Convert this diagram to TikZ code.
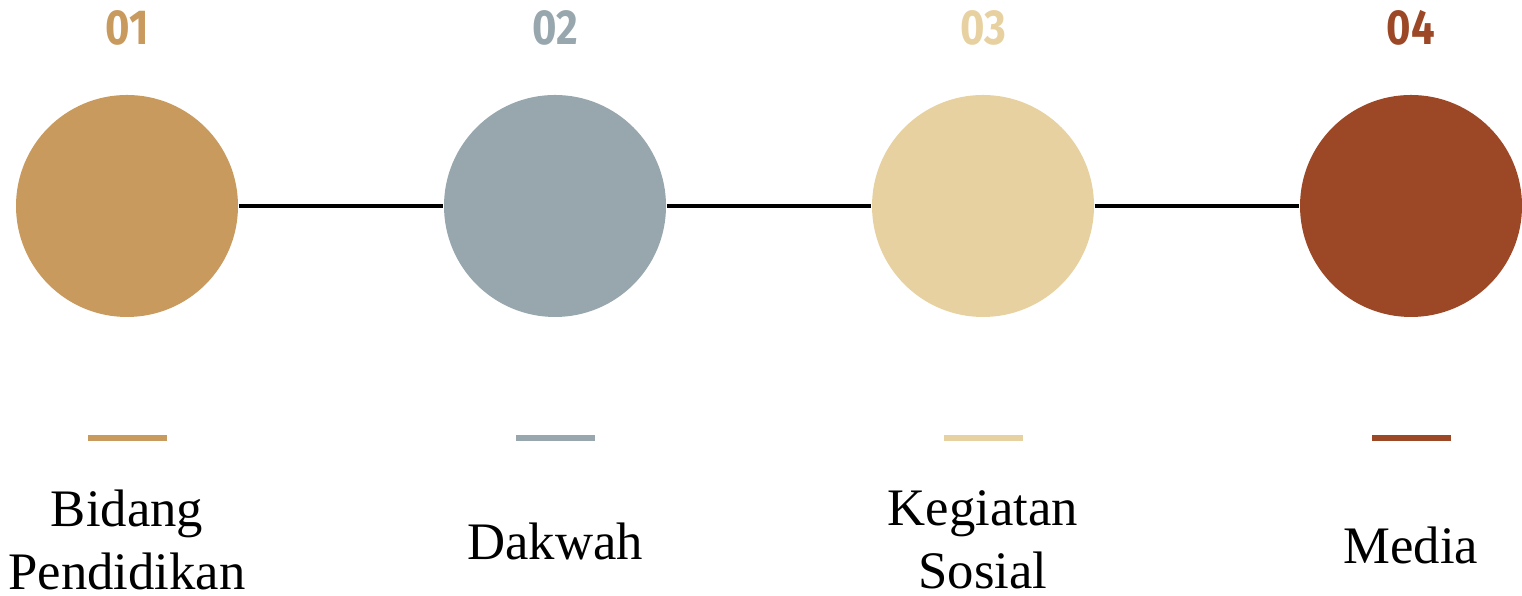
\documentclass[tikz,border=0pt]{standalone}
\usepackage{fontspec}
\setmainfont{Liberation Serif}
\newfontfamily\numfont{Fira Sans}
\usepackage{tikz}
\usetikzlibrary{positioning}

\definecolor{ochre}{HTML}{C89A5E}
\definecolor{slate}{HTML}{97A7AD}
\definecolor{sand}{HTML}{E8D1A0}
\definecolor{rust}{HTML}{9C4726}

\tikzset{
  dot/.style={circle,fill=#1,minimum size=2.22cm,inner sep=0pt},
  num/.style={text=#1,font=\numfont\bfseries\fontsize{14}{14}\selectfont},
  bar/.style={draw=#1,line width=1.7pt},
  lbl/.style={align=center,inner sep=0pt,font=\fontsize{15}{18}\selectfont}
}

\begin{document}
\begin{tikzpicture}

  \useasboundingbox (0,0) rectangle (15.22,5.96);

  \node [dot=ochre] (c1) at (1.27,3.90) {};
  \node [dot=slate] (c2) at (5.55,3.90) {};
  \node [dot=sand]  (c3) at (9.83,3.90) {};
  \node [dot=rust]  (c4) at (14.11,3.90) {};

  \draw [line width=1pt] (c1) -- (c2);
  \draw [line width=1pt] (c2) -- (c3);
  \draw [line width=1pt] (c3) -- (c4);

  \node [num=ochre] (n1) at (1.27,5.68) {\scalebox{0.85}[1]{01}};
  \node [num=slate] (n2) at (5.55,5.68) {\scalebox{0.85}[1]{02}};
  \node [num=sand]  (n3) at (9.83,5.68) {\scalebox{0.85}[1]{03}};
  \node [num=rust]  (n4) at (14.11,5.68) {\scalebox{0.85}[1]{04}};

  \draw [bar=ochre] (0.88,1.58) -- (1.67,1.58);
  \draw [bar=slate] (5.16,1.58) -- (5.95,1.58);
  \draw [bar=sand]  (9.44,1.58) -- (10.23,1.58);
  \draw [bar=rust]  (13.72,1.58) -- (14.51,1.58);

  \node [lbl] (l1) at (1.27,0.56) {Bidang\\Pendidikan};
  \node [lbl] (l2) at (5.55,0.55) {Dakwah};
  \node [lbl] (l3) at (9.83,0.56) {Kegiatan\\Sosial};
  \node [lbl] (l4) at (14.11,0.51) {Media};

\end{tikzpicture}
\end{document}
